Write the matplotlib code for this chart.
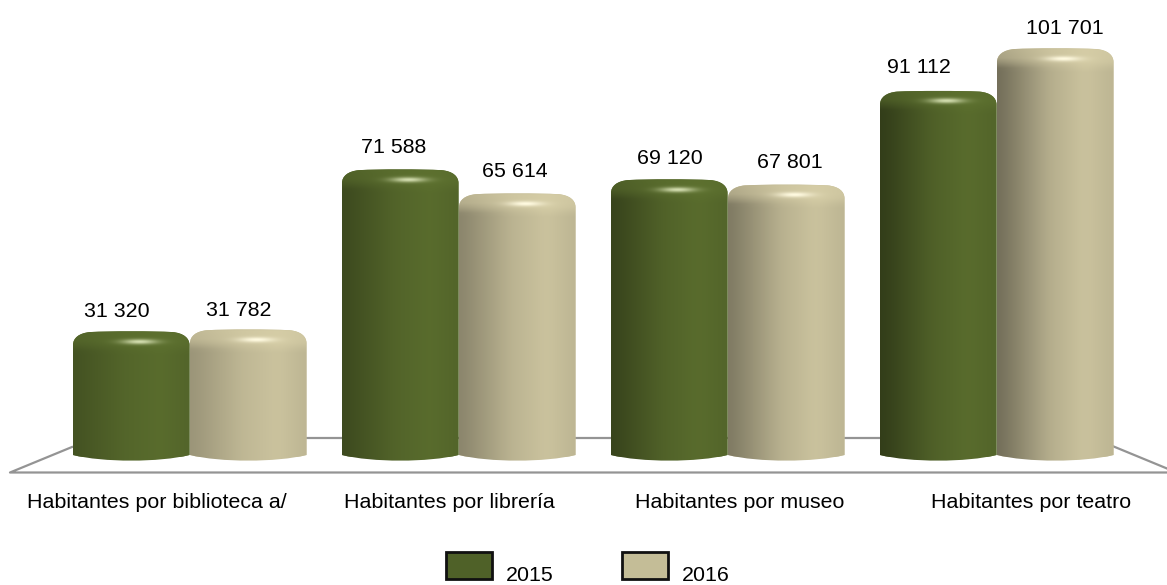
import numpy as np
import matplotlib
matplotlib.use("Agg")
import matplotlib.pyplot as plt
from matplotlib.colors import to_rgb
from matplotlib.legend_handler import HandlerPatch
from matplotlib.patches import PathPatch, Patch, Rectangle
from matplotlib.path import Path

plt.rcParams["font.family"] = ["Liberation Sans", "DejaVu Sans"]

categories = ["Habitantes por biblioteca a/", "Habitantes por librería",
              "Habitantes por museo", "Habitantes por teatro"]
years = ["2015", "2016"]
values_2015 = [31320, 71588, 69120, 91112]
values_2016 = [31782, 65614, 67801, 101701]

# layout
W, H = 1167, 585
GROUP_PX = 269.0        # px per category
VAL_PX = 0.004021       # px per inhabitant
X0_PX, Y0_PX = 189.5, 457.0
BAR_PX = 116.5
label_px = [157, 449, 740, 1031]
val_label_dx = [[-14, -10], [-7, -2], [1, 4], [-19, 10]]
val_label_dy = [[20, 19], [22, 22], [21, 22], [23, 20]]
left_dark = [0.76, 0.68, 0.62, 0.56]    # how dark the left edge gets, per group

GREEN, TAN = "#596c2d", "#cbc39e"
FLOOR = "#949494"
FS = 15.4


def xd(px):
    return (px - X0_PX) / GROUP_PX


def yd(py):
    return (Y0_PX - py) / VAL_PX


def cylinder_path(x0, x1, top):
    # x0, x1, top in px. rounded top, slightly bulged bottom
    side = 455.0
    mid = (x0 + x1) / 2
    pts = [(x0, side), (x0, top + 14), (x0, top + 7), (x0 + 6, top + 2), (x0 + 17, top + 1),
           (mid - 20, top), (mid + 20, top), (x1 - 17, top + 1),
           (x1 - 6, top + 2), (x1, top + 7), (x1, top + 14),
           (x1, side), (x1 - 30, side + 7.5), (x0 + 30, side + 7.5), (x0, side), (x0, side)]
    codes = [Path.MOVETO, Path.LINETO, Path.CURVE4, Path.CURVE4, Path.CURVE4,
             Path.CURVE4, Path.CURVE4, Path.CURVE4,
             Path.CURVE4, Path.CURVE4, Path.CURVE4,
             Path.LINETO, Path.CURVE4, Path.CURVE4, Path.CURVE4, Path.CLOSEPOLY]
    return Path([(xd(a), yd(b)) for a, b in pts], codes)


def cylinder_image(color, width, height, dark, hi_color, cap_gain):
    # shaded RGB image of one bar, one cell per pixel
    base = np.array(to_rgb(color))
    u = (np.arange(width) + 0.5) / width
    v = np.arange(height) + 0.5
    shade = np.interp(u, [0, 0.1, 0.45, 0.75, 1], [dark, dark + (1 - dark) * 0.15, dark + (1 - dark) * 0.75, 1, 0.93])
    kernel = np.ones(15) / 15
    shade = np.convolve(np.pad(shade, 7, mode="edge"), kernel, mode="valid")
    # the cap keeps less of the side shading than the body
    flat = np.interp(v, [0, 10, 20], [0.6, 0.5, 0.0])[:, None]
    shade2 = shade[None, :] + (1 - shade[None, :]) * flat
    img = base * shade2[:, :, None]
    cap = np.interp(v, [0, 2, 6, 14, 24], [cap_gain * 0.97, cap_gain, cap_gain, cap_gain, 1.0])
    img = img * cap[:, None, None]
    # small specular spot
    du = (u - 0.57) / 0.15
    dv = (v - 10.7) / 2.6
    spot = np.exp(-(dv[:, None] ** 2 + du[None, :] ** 2))
    img = img + (hi_color - img) * spot[:, :, None]
    return np.clip(img, 0, 1)


fig = plt.figure(figsize=(W / 100, H / 100), dpi=100)
ax = fig.add_axes([0, 0, 1, 1])
ax.axis("off")

# floor
ax.plot([xd(72), xd(10), xd(1167)], [yd(447), yd(472.5), yd(472.5)], color=FLOOR, lw=1.6, zorder=1)
ax.plot([xd(300), xd(890)], [yd(437.5), yd(437.5)], color=FLOOR, lw=1.6, zorder=1)
ax.plot([xd(1110), xd(1167)], [yd(445), yd(468.5)], color=FLOOR, lw=1.6, zorder=1)

x = np.arange(len(categories))
series = [values_2015, values_2016]
colors = [GREEN, TAN]
highlights = [np.array([0.82, 0.86, 0.68]), np.array([1.0, 0.98, 0.88])]
cap_gains = [1.04, 1.05]

for s, (vals, col) in enumerate(zip(series, colors)):
    lefts = x + (s - 1) * BAR_PX / GROUP_PX + s * 0.5 / GROUP_PX
    bars = ax.bar(lefts, vals, width=BAR_PX / GROUP_PX, align="edge", color=col, zorder=2)
    for i, (bar, v) in enumerate(zip(bars, vals)):
        x0 = X0_PX + bar.get_x() * GROUP_PX
        x1 = x0 + BAR_PX
        top = Y0_PX - v * VAL_PX
        clip = PathPatch(cylinder_path(x0, x1, top), transform=ax.transData, fc="none", ec="none")
        ax.add_patch(clip)
        bar.set_clip_path(clip)
        img = cylinder_image(col, int(BAR_PX), int(round(463 - top)), left_dark[i], highlights[s], cap_gains[s])
        im = ax.imshow(img, extent=[xd(x0), xd(x1), yd(463), yd(top)], aspect="auto",
                       interpolation="bilinear", zorder=3)
        im.set_clip_path(clip)
        ax.text(xd((x0 + x1) / 2 + val_label_dx[i][s]), v + val_label_dy[i][s] / VAL_PX,
                f"{v:,}".replace(",", " "), ha="center", va="center", fontsize=FS, color="black", zorder=4)

for px, cat in zip(label_px, categories):
    ax.text(xd(px), yd(502.5), cat, ha="center", va="center", fontsize=FS, color="black")

ax.set_xlim(xd(0), xd(W))
ax.set_ylim(yd(H), yd(0))


def shifted_box(legend, orig_handle, xdescent, ydescent, width, height, fontsize):
    return Rectangle((-xdescent, -ydescent + 6), width, height)


handles = [Patch(facecolor=c, edgecolor="#111111", linewidth=2.0, label=y) for c, y in zip(["#4f6128", "#c4bd97"], years)]
leg = fig.legend(handles=handles, ncol=2, frameon=False, fontsize=FS,
                 handlelength=2.15, handleheight=1.6, handletextpad=0.65, columnspacing=3.2,
                 borderpad=0, labelspacing=0,
                 loc="center", bbox_to_anchor=(588 / W, 1 - 574 / H),
                 handler_map={Patch: HandlerPatch(patch_func=shifted_box)})

fig.savefig("out.png", dpi=100)
